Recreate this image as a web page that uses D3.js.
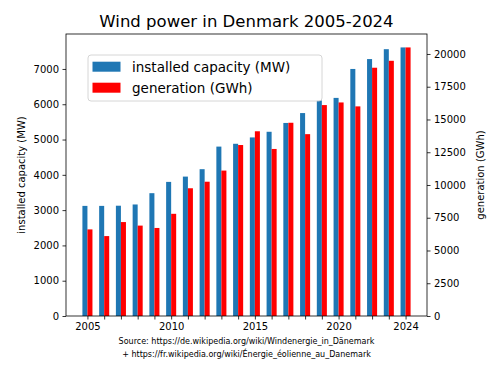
<!DOCTYPE html>
<html><head><meta charset="utf-8">
<script src="https://cdn.jsdelivr.net/npm/d3@7"></script>
<style>body{margin:0;background:#fff}svg{display:block}text{font-family:"DejaVu Sans",sans-serif;fill:#000}</style>
</head><body>
<script>
const years = [2005,2006,2007,2008,2009,2010,2011,2012,2013,2014,2015,2016,2017,2018,2019,2020,2021,2022,2023,2024];
const capacity = [3120,3120,3125,3160,3480,3800,3950,4160,4800,4880,5060,5220,5470,5750,6110,6180,7000,7280,7560,7610];
const generation = [6610,6100,7170,6900,6720,7800,9750,10250,11100,13050,14100,12750,14750,13880,16100,16300,16000,18950,19480,20500];
const xTickLabels = [2005,2010,2015,2020,2024];
const leftTicks = [0,1000,2000,3000,4000,5000,6000,7000];
const rightTicks = [0,2500,5000,7500,10000,12500,15000,17500,20000];
const legendLabels = ["installed capacity (MW)","generation (GWh)"];
const colors = ["#1f77b4","#ff0000"];

const W=500,H=376;
const L=66,R=427,T=34,B=316;
const svg=d3.select("body").append("svg").attr("width",W).attr("height",H);
const bw=0.3;
const x=d3.scaleLinear().domain([2004.7-0.98,2024.3+0.98]).range([L,R]);
const yL=d3.scaleLinear().domain([0,d3.max(capacity)*1.05]).range([B,T]);
const yR=d3.scaleLinear().domain([0,d3.max(generation)*1.05]).range([B,T]);

svg.append("g").selectAll("rect").data(years).join("rect")
  .attr("x",(d)=>x(d-bw)).attr("width",(d)=>x(d)-x(d-bw))
  .attr("y",(d,i)=>yL(capacity[i])).attr("height",(d,i)=>B-yL(capacity[i]))
  .attr("fill",colors[0]);
svg.append("g").selectAll("rect").data(years).join("rect")
  .attr("x",(d)=>x(d)).attr("width",(d)=>x(d+bw)-x(d))
  .attr("y",(d,i)=>yR(generation[i])).attr("height",(d,i)=>B-yR(generation[i]))
  .attr("fill",colors[1]);

const fmt=d3.format("d");
const ax=svg.append("g").attr("transform",`translate(0,${B})`)
  .call(d3.axisBottom(x).tickValues(years).tickFormat(d=>xTickLabels.includes(d)?fmt(d):"").tickSizeInner(3.5).tickSizeOuter(0).tickPadding(3.5));
const al=svg.append("g").attr("transform",`translate(${L},0)`)
  .call(d3.axisLeft(yL).tickValues(leftTicks).tickFormat(fmt).tickSizeInner(3.5).tickSizeOuter(0).tickPadding(3.5));
const ar=svg.append("g").attr("transform",`translate(${R},0)`)
  .call(d3.axisRight(yR).tickValues(rightTicks).tickFormat(fmt).tickSizeInner(3.5).tickSizeOuter(0).tickPadding(3.5));
[ax,al,ar].forEach(g=>{g.select(".domain").remove();g.selectAll("text").attr("font-size",10).attr("font-family","DejaVu Sans").attr("fill","#000");g.selectAll("line").attr("stroke","#000").attr("stroke-width",0.8);});

svg.append("rect").attr("x",L).attr("y",T).attr("width",R-L).attr("height",B-T)
  .attr("fill","none").attr("stroke","#000").attr("stroke-width",0.8);

svg.append("text").attr("x",(L+R)/2).attr("y",27).attr("text-anchor","middle").attr("font-size",16.5).text("Wind power in Denmark 2005-2024");
svg.append("text").attr("transform",`translate(21,${(T+B)/2}) rotate(-90)`).attr("text-anchor","middle").attr("dominant-baseline","central").attr("font-size",10).text("installed capacity (MW)");
svg.append("text").attr("transform",`translate(480,${(T+B)/2}) rotate(-90)`).attr("text-anchor","middle").attr("dominant-baseline","central").attr("font-size",10).text("generation (GWh)");

const src=["Source: https://de.wikipedia.org/wiki/Windenergie_in_Dänemark","+ https://fr.wikipedia.org/wiki/Énergie_éolienne_au_Danemark"];
svg.append("g").selectAll("text").data(src).join("text")
  .attr("x",(L+R)/2).attr("y",(d,i)=>344+i*13).attr("text-anchor","middle").attr("font-size",8).text(d=>d);

const lg=svg.append("g");
lg.append("rect").attr("x",88).attr("y",55).attr("width",234).attr("height",46).attr("rx",3)
  .attr("fill","#fff").attr("fill-opacity",0.8).attr("stroke","#ccc").attr("stroke-width",0.8);
legendLabels.forEach((t,i)=>{
  lg.append("rect").attr("x",92.5).attr("y",61.7+i*21).attr("width",28).attr("height",10).attr("fill",colors[i]);
  lg.append("text").attr("x",132).attr("y",66.7+i*21).attr("dominant-baseline","central").attr("font-size",13.5).text(t);
});
</script>
</body></html>
